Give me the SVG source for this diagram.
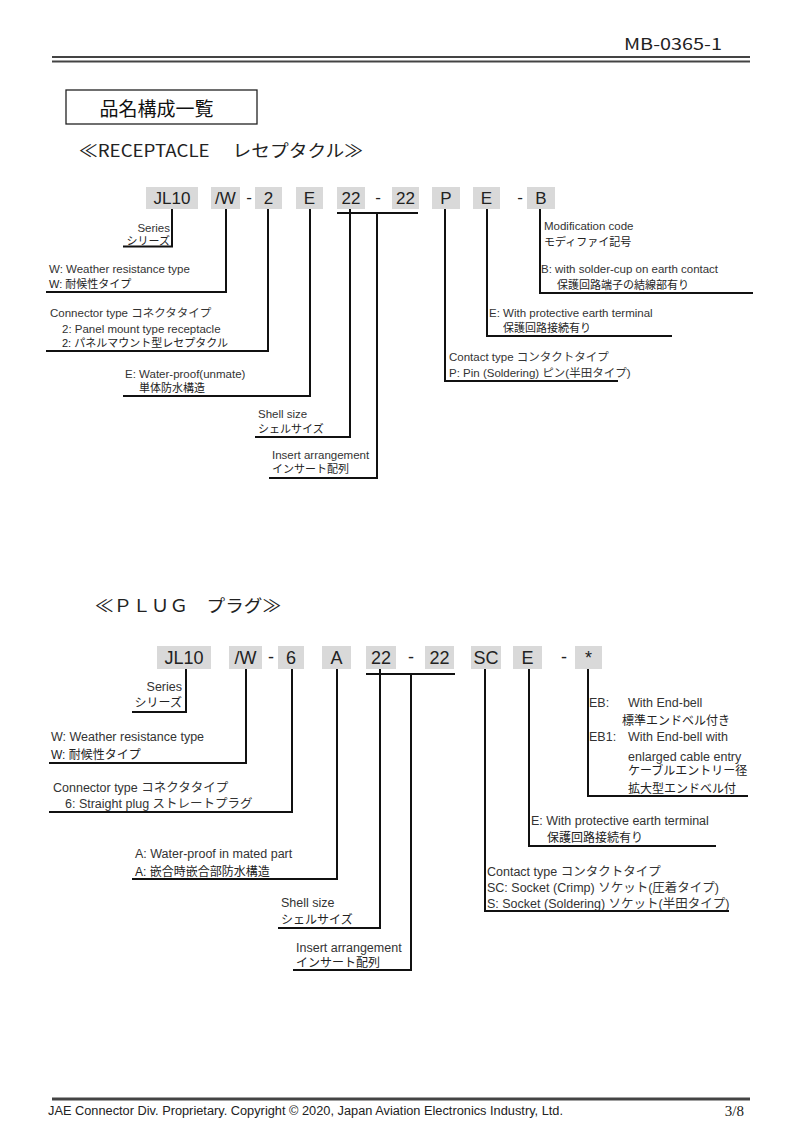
<svg xmlns="http://www.w3.org/2000/svg" width="800" height="1132" viewBox="0 0 800 1132">
<style>
.bg{fill:#ffffff}
.box{fill:#d9d9d9}
.code{font-family:"Liberation Sans",Arial,sans-serif;font-size:17px;fill:#222;text-anchor:middle}
.pcode{font-family:"Liberation Sans",Arial,sans-serif;font-size:18px;fill:#222;text-anchor:middle}
.lbl{font-family:"Liberation Sans","Noto Sans CJK JP",sans-serif;font-size:11.5px;fill:#333}
.jp{font-family:"Liberation Sans","Noto Sans CJK JP",sans-serif;font-size:11px;fill:#222}
.plbl{font-family:"Liberation Sans","Noto Sans CJK JP",sans-serif;font-size:12.5px;fill:#333}
.pjp{font-family:"Liberation Sans","Noto Sans CJK JP",sans-serif;font-size:12px;fill:#222}
.ttl{font-family:"Noto Sans CJK JP",sans-serif;font-size:17px;fill:#222}
.ln{stroke:#111;stroke-width:2;fill:none}
.end{text-anchor:end}
</style>
<rect class="bg" x="0" y="0" width="800" height="1132"/>

<g id="header">
<text x="722" y="50" font-family="'Noto Sans CJK JP',sans-serif" font-size="16" fill="#222" text-anchor="end" textLength="98" lengthAdjust="spacingAndGlyphs">MB-0365-1</text>
<line x1="52" y1="57" x2="750" y2="57" stroke="#444" stroke-width="2"/>
<line x1="52" y1="61.5" x2="750" y2="61.5" stroke="#444" stroke-width="2"/>
</g>

<g id="title-box">
<rect x="66" y="90" width="191" height="34" fill="none" stroke="#222" stroke-width="1.3"/>
<text x="156.5" y="116" font-family="'Noto Sans CJK JP',sans-serif" font-size="19" fill="#111" text-anchor="middle">品名構成一覧</text>
</g>

<g id="receptacle-title">
<text class="ttl" x="79" y="157" textLength="284" lengthAdjust="spacingAndGlyphs">≪RECEPTACLE　 レセプタクル≫</text>
</g>

<!-- Receptacle code row -->
<g id="r-jl10"><rect class="box" x="146" y="187" width="52" height="22"/><text class="code" x="172" y="204">JL10</text></g>
<g id="r-w"><rect class="box" x="211" y="187" width="29" height="22"/><text class="code" x="225.5" y="204">/W</text></g>
<g id="r-d1"><text class="code" x="249" y="203">-</text></g>
<g id="r-2"><rect class="box" x="255" y="187" width="27" height="22"/><text class="code" x="268.5" y="204">2</text></g>
<g id="r-e"><rect class="box" x="296" y="187" width="27" height="22"/><text class="code" x="309.5" y="204">E</text></g>
<g id="r-22a"><rect class="box" x="337" y="187" width="28" height="22"/><text class="code" x="351" y="204">22</text></g>
<g id="r-d2"><text class="code" x="378" y="203">-</text></g>
<g id="r-22b"><rect class="box" x="392" y="187" width="27" height="22"/><text class="code" x="405.5" y="204">22</text></g>
<g id="r-p"><rect class="box" x="432" y="187" width="28" height="22"/><text class="code" x="446" y="204">P</text></g>
<g id="r-e2"><rect class="box" x="473" y="187" width="27" height="22"/><text class="code" x="486.5" y="204">E</text></g>
<g id="r-d3"><text class="code" x="520" y="203">-</text></g>
<g id="r-b"><rect class="box" x="527" y="187" width="28" height="22"/><text class="code" x="541" y="204">B</text></g>

<!-- Receptacle labels -->
<g id="r-series"><text class="lbl end" x="170" y="231.5">Series</text><text class="jp end" x="170" y="244.5">シリーズ</text></g>
<g id="r-weather"><text class="lbl" x="49" y="272.5">W: Weather resistance type</text><text class="jp" x="49" y="288">W: 耐候性タイプ</text></g>
<g id="r-conn"><text class="lbl" x="50" y="316.5">Connector type  コネクタタイプ</text><text class="lbl" x="62" y="332.5">2: Panel mount type receptacle</text><text class="jp" x="62" y="347">2: パネルマウント型レセプタクル</text></g>
<g id="r-water"><text class="lbl" x="125" y="377.5">E: Water-proof(unmate)</text><text class="jp" x="139" y="392">単体防水構造</text></g>
<g id="r-shell"><text class="lbl" x="258" y="417.5">Shell size</text><text class="jp" x="258" y="433">シェルサイズ</text></g>
<g id="r-insert"><text class="lbl" x="272" y="458.5">Insert arrangement</text><text class="jp" x="272" y="473">インサート配列</text></g>
<g id="r-mod"><text class="lbl" x="544" y="229.5">Modification code</text><text class="jp" x="544" y="246">モディファイ記号</text><text class="lbl" x="541" y="272.5">B: with solder-cup on earth contact</text><text class="jp" x="557" y="289">保護回路端子の結線部有り</text></g>
<g id="r-earth"><text class="lbl" x="489" y="316.5">E: With protective earth terminal</text><text class="jp" x="503" y="332">保護回路接続有り</text></g>
<g id="r-contact"><text class="lbl" x="449" y="360.5">Contact type コンタクトタイプ</text><text class="lbl" x="449" y="376.5">P: Pin (Soldering)  ピン(半田タイプ)</text></g>

<g id="plug-title">
<text class="ttl" x="95" y="612" textLength="186" lengthAdjust="spacingAndGlyphs">≪ＰＬＵＧ　プラグ≫</text>
</g>

<!-- Plug code row -->
<g id="p-jl10"><rect class="box" x="157" y="646" width="54" height="23"/><text class="pcode" x="184" y="664">JL10</text></g>
<g id="p-w"><rect class="box" x="229" y="646" width="33" height="23"/><text class="pcode" x="245.5" y="664">/W</text></g>
<g id="p-d1"><text class="pcode" x="271" y="663">-</text></g>
<g id="p-6"><rect class="box" x="278" y="646" width="26" height="23"/><text class="pcode" x="291" y="664">6</text></g>
<g id="p-a"><rect class="box" x="322" y="646" width="29" height="23"/><text class="pcode" x="336.5" y="664">A</text></g>
<g id="p-22a"><rect class="box" x="366" y="646" width="30" height="23"/><text class="pcode" x="381" y="664">22</text></g>
<g id="p-d2"><text class="pcode" x="411" y="663">-</text></g>
<g id="p-22b"><rect class="box" x="425" y="646" width="29" height="23"/><text class="pcode" x="439.5" y="664">22</text></g>
<g id="p-sc"><rect class="box" x="471" y="646" width="30" height="23"/><text class="pcode" x="486" y="664">SC</text></g>
<g id="p-e"><rect class="box" x="513" y="646" width="29" height="23"/><text class="pcode" x="527.5" y="664">E</text></g>
<g id="p-d3"><text class="pcode" x="564" y="663">-</text></g>
<g id="p-star"><rect class="box" x="575" y="646" width="27" height="23"/><text class="pcode" x="588.5" y="664">*</text></g>

<!-- Plug labels -->
<g id="p-series"><text class="plbl end" x="182" y="690.5">Series</text><text class="pjp end" x="182" y="706.5">シリーズ</text></g>
<g id="p-weather"><text class="plbl" x="51" y="740.5">W: Weather resistance type</text><text class="pjp" x="51" y="758.5">W: 耐候性タイプ</text></g>
<g id="p-conn"><text class="plbl" x="53" y="791.5">Connector type  コネクタタイプ</text><text class="plbl" x="65" y="807.5">6: Straight plug  ストレートプラグ</text></g>
<g id="p-water"><text class="plbl" x="135" y="857.5">A: Water-proof in mated part</text><text class="pjp" x="135" y="875.5">A: 嵌合時嵌合部防水構造</text></g>
<g id="p-shell"><text class="plbl" x="281" y="906.5">Shell size</text><text class="pjp" x="281" y="923.5">シェルサイズ</text></g>
<g id="p-insert"><text class="plbl" x="296" y="951.5">Insert arrangement</text><text class="pjp" x="296" y="966.5">インサート配列</text></g>
<g id="p-endbell"><text class="plbl" x="589" y="706.5">EB:</text><text class="plbl" x="628" y="706.5">With End-bell</text><text class="pjp" x="622" y="724.5">標準エンドベル付き</text><text class="plbl" x="589" y="740.5">EB1:</text><text class="plbl" x="628" y="740.5">With End-bell with</text><text class="plbl" x="628" y="760.5">enlarged cable entry</text><text class="pjp" x="628" y="774.5">ケーブルエントリー径</text><text class="pjp" x="628" y="792.5">拡大型エンドベル付</text></g>
<g id="p-earth"><text class="plbl" x="531" y="824.5">E: With protective earth terminal</text><text class="pjp" x="547" y="841.5">保護回路接続有り</text></g>
<g id="p-contact"><text class="plbl" x="487" y="875.5">Contact type コンタクトタイプ</text><text class="plbl" x="487" y="891.5">SC: Socket (Crimp) ソケット(圧着タイプ)</text><text class="plbl" x="487" y="907.5">S: Socket (Soldering) ソケット(半田タイプ)</text></g>

<g id="connectors">
<path class="ln" d="M172,209 V246.5 H123"/>
<path class="ln" d="M226,209 V292 H46"/>
<path class="ln" d="M268,209 V351 H46"/>
<path class="ln" d="M310,209 V396 H123"/>
<path class="ln" d="M350,209 V437 H255"/>
<path class="ln" d="M337,213 H418"/>
<path class="ln" d="M377,213 V478 H269"/>
<path class="ln" d="M445,209 V381 H618"/>
<path class="ln" d="M487,209 V336 H672"/>
<path class="ln" d="M540,209 V293 H753"/>

<path class="ln" d="M186,669 V712 H132"/>
<path class="ln" d="M246,669 V763 H49"/>
<path class="ln" d="M292,669 V812 H49"/>
<path class="ln" d="M337,669 V879 H132"/>
<path class="ln" d="M380,669 V928 H278"/>
<path class="ln" d="M366,674 H455"/>
<path class="ln" d="M411,674 V970 H293"/>
<path class="ln" d="M485,669 V911 H729"/>
<path class="ln" d="M529,669 V846 H716"/>
<path class="ln" d="M588,669 V796 H748"/>
</g>

<g id="footer">
<line x1="52" y1="1099" x2="750" y2="1099" stroke="#444" stroke-width="3"/>
<text x="48" y="1115" font-family="'Liberation Sans',Arial,sans-serif" font-size="12.5" fill="#222" textLength="515" lengthAdjust="spacingAndGlyphs">JAE Connector Div. Proprietary. Copyright ©  2020, Japan Aviation Electronics Industry, Ltd.</text>
<text x="744" y="1116" font-family="'Liberation Serif','Times New Roman',serif" font-size="15" fill="#222" text-anchor="end">3/8</text>
</g>
</svg>
